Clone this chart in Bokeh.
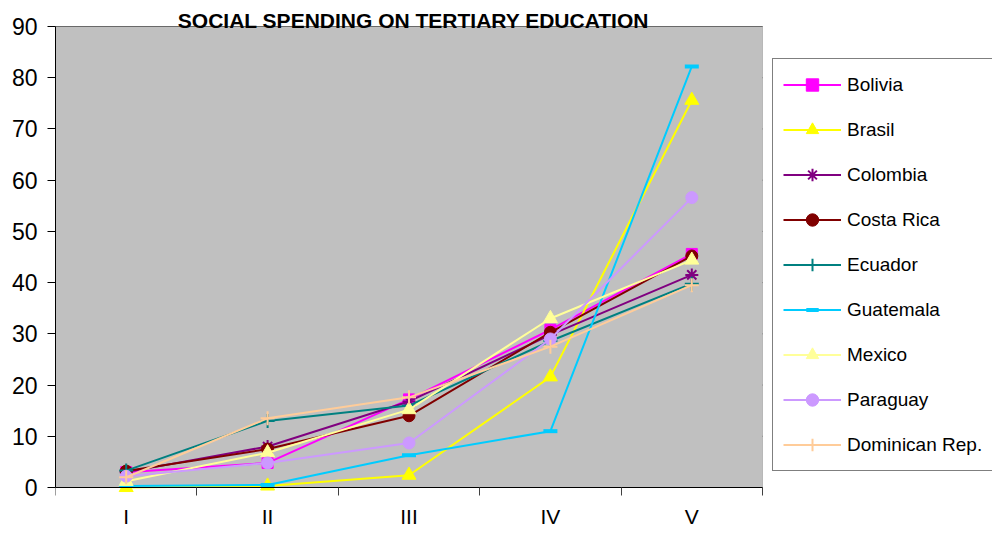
from bokeh.plotting import figure
from bokeh.models import Range1d, FixedTicker, Legend, LegendItem, Label, BoxAnnotation
from bokeh.embed import file_html
from bokeh.resources import INLINE

categories = ["I", "II", "III", "IV", "V"]
series_names = ["Bolivia", "Brasil", "Colombia", "Costa Rica", "Ecuador",
                "Guatemala", "Mexico", "Paraguay", "Dominican Rep."]
bolivia = [3.0, 4.8, 17.2, 30.8, 45.6]
brasil = [0.0, 0.3, 2.4, 21.6, 75.6]
colombia = [3.0, 8.0, 16.8, 29.8, 41.5]
costa_rica = [3.2, 7.5, 14.0, 30.3, 45.2]
ecuador = [3.3, 13.0, 16.0, 28.6, 39.8]
guatemala = [0.3, 0.5, 6.3, 11.0, 82.2]
mexico = [1.2, 6.8, 15.2, 33.0, 44.4]
paraguay = [2.2, 4.8, 8.7, 29.0, 56.6]
dominican = [2.0, 13.5, 17.6, 27.5, 39.5]
y_ticks = [0, 10, 20, 30, 40, 50, 60, 70, 80, 90]
title_text = "SOCIAL SPENDING ON TERTIARY EDUCATION"

all_series = [bolivia, brasil, colombia, costa_rica, ecuador,
              guatemala, mexico, paraguay, dominican]
colors = ["#FF00FF", "#FFFF00", "#800080", "#800000", "#008080",
          "#00CCFF", "#FFFF99", "#CC99FF", "#FFCC99"]
markers = ["square", "triangle", "asterisk", "circle", "cross",
           "dash", "triangle", "circle", "cross"]
sizes = [11, 14, 13, 12, 14, 14, 14, 12, 14]

FONT = "Liberation Sans"
W, H = 992, 532
LEFT = 55            # pixel of plot-area left edge
PLOT_RIGHT = 762     # pixel of plot-area right edge
PLOT_TOP = 26
PLOT_BOTTOM = 487
Y_MAX = y_ticks[-1]
n = len(categories)
xs = list(range(1, n + 1))

px_per_x = (PLOT_RIGHT - LEFT) / n
px_per_y = (PLOT_BOTTOM - PLOT_TOP) / Y_MAX
x_end = 0.5 + (W - LEFT) / px_per_x
y_start = -(H - PLOT_BOTTOM) / px_per_y
y_end = PLOT_BOTTOM / px_per_y

p = figure(width=W, height=H, output_backend="svg", toolbar_location=None,
           x_range=Range1d(0.5, x_end), y_range=Range1d(y_start, y_end),
           min_border_left=LEFT, min_border_right=0, min_border_top=0,
           min_border_bottom=0)
p.background_fill_color = "white"
p.border_fill_color = "white"
p.outline_line_color = None
p.xgrid.visible = False
p.ygrid.visible = False

# plot area
p.add_layout(BoxAnnotation(left=0.5, right=n + 0.5, bottom=0, top=Y_MAX,
                           fill_color="#C0C0C0", fill_alpha=1,
                           line_color="#606060", line_width=1, level="underlay"))
# horizontal gridlines
p.segment(x0=[0.5] * len(y_ticks), x1=[n + 0.5] * len(y_ticks), y0=y_ticks, y1=y_ticks,
          line_color="#1a1a1a", line_width=1, level="underlay")

# y axis
p.yaxis.ticker = FixedTicker(ticks=y_ticks)
p.yaxis.bounds = (0, Y_MAX)
p.yaxis.axis_line_color = "black"
p.yaxis.major_tick_line_color = "black"
p.yaxis.major_tick_out = 8
p.yaxis.major_tick_in = 0
p.yaxis.minor_tick_line_color = None
p.yaxis.major_label_text_font = FONT
p.yaxis.major_label_text_font_size = "23px"
p.yaxis.major_label_text_color = "black"
p.yaxis.major_label_standoff = 10

# x axis fixed at y=0 inside the frame
p.xaxis.fixed_location = 0
p.xaxis.bounds = (0.5, n + 0.5)
p.xaxis.ticker = FixedTicker(ticks=xs, minor_ticks=[x - 0.5 for x in xs] + [n + 0.5])
p.xaxis.major_label_overrides = {x: c for x, c in zip(xs, categories)}
p.xaxis.axis_line_color = "black"
p.xaxis.major_tick_line_color = None
p.xaxis.major_tick_out = 0
p.xaxis.major_tick_in = 0
p.xaxis.minor_tick_line_color = "#404040"
p.xaxis.minor_tick_out = 8
p.xaxis.minor_tick_in = 0
p.xaxis.major_label_text_font = FONT
p.xaxis.major_label_text_font_size = "21px"
p.xaxis.major_label_text_color = "black"
p.xaxis.major_label_standoff = 9

items = []
for name, ys, col, mk, sz in zip(series_names, all_series, colors, markers, sizes):
    lr = p.line(xs, ys, line_color=col, line_width=2)
    lw = 4 if mk == "dash" else (2 if mk in ("asterisk", "cross") else 1)
    mr = p.scatter(xs, ys, marker=mk, size=sz, fill_color=col, line_color=col, line_width=lw)
    items.append(LegendItem(label=name, renderers=[lr, mr]))

legend = Legend(items=items, location=(717, 61))
legend.border_line_color = "black"
legend.border_line_width = 1
legend.background_fill_color = "white"
legend.background_fill_alpha = 1
legend.padding = 10
legend.margin = 0
legend.spacing = 14
legend.glyph_width = 58
legend.glyph_height = 31
legend.label_height = 20
legend.label_standoff = 6
legend.label_text_font = FONT
legend.label_text_font_size = "19px"
legend.label_text_color = "black"
p.add_layout(legend)

title = Label(x=(413 - LEFT) / px_per_x + 0.5, y=(PLOT_BOTTOM - 20) / px_per_y,
              text=title_text, text_align="center", text_baseline="alphabetic",
              text_font=FONT, text_font_style="bold", text_font_size="21px",
              text_color="black")
p.add_layout(title)

open("out.html", "w").write(file_html(p, INLINE))
